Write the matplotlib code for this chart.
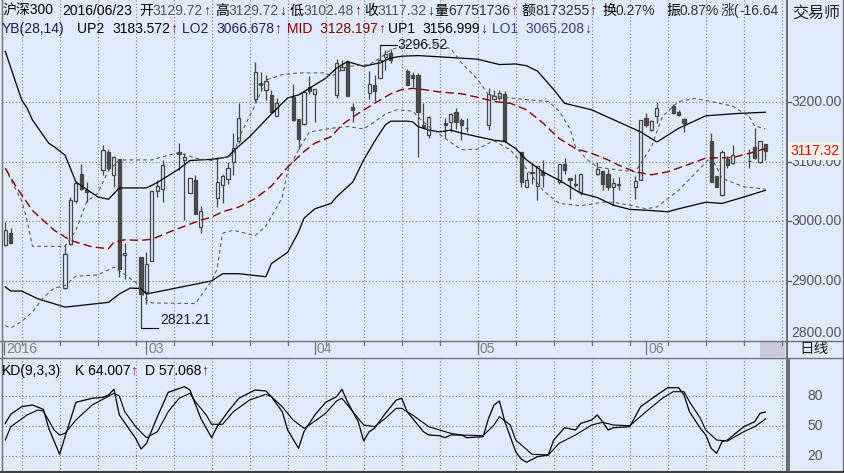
import numpy as np
import pandas as pd
import matplotlib
matplotlib.use("Agg")
from matplotlib import pyplot as plt
import matplotlib.dates as mdates
from matplotlib.patches import Rectangle
from matplotlib.lines import Line2D

plt.rcParams['font.family'] = ['Liberation Sans', 'Noto Sans CJK SC', 'DejaVu Sans']

# 沪深300 日K (读图估值)
trade_days = ['2016-02-04', '2016-02-05', '2016-02-15', '2016-02-16', '2016-02-17', '2016-02-18', '2016-02-19',
              '2016-02-22', '2016-02-23', '2016-02-24', '2016-02-25', '2016-02-26', '2016-02-29',
              '2016-03-01', '2016-03-02', '2016-03-03', '2016-03-04', '2016-03-07', '2016-03-08', '2016-03-09',
              '2016-03-10', '2016-03-11', '2016-03-14', '2016-03-15', '2016-03-16', '2016-03-17', '2016-03-18',
              '2016-03-21', '2016-03-22', '2016-03-23', '2016-03-24', '2016-03-25', '2016-03-28', '2016-03-29',
              '2016-03-30', '2016-03-31',
              '2016-04-01', '2016-04-05', '2016-04-06', '2016-04-07', '2016-04-08', '2016-04-11', '2016-04-12',
              '2016-04-13', '2016-04-14', '2016-04-15', '2016-04-18', '2016-04-19', '2016-04-20', '2016-04-21',
              '2016-04-22', '2016-04-25', '2016-04-26', '2016-04-27', '2016-04-28', '2016-04-29',
              '2016-05-03', '2016-05-04', '2016-05-05', '2016-05-06', '2016-05-09', '2016-05-10', '2016-05-11',
              '2016-05-12', '2016-05-13', '2016-05-16', '2016-05-17', '2016-05-18', '2016-05-19', '2016-05-20',
              '2016-05-23', '2016-05-24', '2016-05-25', '2016-05-26', '2016-05-27', '2016-05-30', '2016-05-31',
              '2016-06-01', '2016-06-02', '2016-06-03', '2016-06-06', '2016-06-07', '2016-06-08', '2016-06-13',
              '2016-06-14', '2016-06-15', '2016-06-16', '2016-06-17', '2016-06-20', '2016-06-21', '2016-06-22',
              '2016-06-23']
opens = [2961, 2981, 2888, 2962, 3034, 3079, 3053, 3086, 3117, 3078, 3104, 2943, 2940,
         2881, 2933, 3051, 3055, 3116, 3103, 3047, 3069, 2990, 3039, 3061, 3071, 3100, 3135, 3205, 3232, 3221,
         3212, 3177, 3208, 3172, 3163, 3225,
         3214, 3212, 3254, 3267, 3191, 3215, 3229, 3240, 3276, 3282, 3253, 3246, 3246, 3162, 3145, 3165, 3166,
         3184, 3170, 3157,
         3162, 3205, 3207, 3214, 3117, 3057, 3082, 3060, 3083, 3066, 3096, 3073, 3063, 3049, 3079, 3084, 3079,
         3058, 3061, 3057, 3070,
         3173, 3153, 3176, 3193, 3184, 3171, 3135, 3076, 3044, 3104, 3097, 3101, 3125, 3100, 3129.72]
highs = [2999, 2988, 2962, 3041, 3066, 3096, 3066, 3128, 3122, 3109, 3104, 2964, 2940,
         2948, 3051, 3069, 3103, 3131, 3114, 3072, 3078, 3026, 3108, 3080, 3100, 3148, 3198, 3268, 3251, 3245,
         3221, 3207, 3230, 3172, 3219, 3243,
         3222, 3273, 3271, 3271, 3198, 3252, 3246, 3296.52, 3288, 3289, 3255, 3251, 3249, 3198, 3177, 3173, 3181,
         3190, 3173, 3173,
         3223, 3221, 3220, 3218, 3117, 3083, 3097, 3092, 3103, 3096, 3106, 3073, 3079, 3079, 3100, 3084, 3087,
         3072, 3074, 3076, 3170,
         3181, 3170, 3201, 3196, 3187, 3173, 3148, 3076, 3119, 3110, 3128, 3122, 3156, 3134, 3129.72]
lows = [2959, 2963, 2886, 2960, 3030, 3052, 3033, 3077, 3086, 3058, 2906, 2903, 2821.21,
        2862, 2933, 3041, 3033, 3086, 3002, 3047, 3012, 2981, 3024, 3030, 3063, 3077, 3131, 3201, 3218, 3204,
        3181, 3176, 3169, 3122, 3162, 3213,
        3167, 3207, 3254, 3210, 3167, 3205, 3202, 3240, 3254, 3266, 3228, 3226, 3108, 3156, 3139, 3140, 3150,
        3155, 3136, 3150,
        3153, 3204, 3204, 3133, 3058, 3057, 3063, 3036, 3058, 3063, 3080, 3038, 3058, 3044, 3078, 3053, 3052,
        3027, 3053, 3038, 3070,
        3159, 3152, 3165, 3180, 3176, 3149, 3066, 3057, 3043, 3090, 3096, 3089, 3105, 3098, 3102.48]
closes = [2985, 2964, 2945, 3036, 3064, 3055, 3050, 3119, 3089, 3108, 2920, 2947, 2878,
          2929, 3051, 3059, 3094, 3113, 3108, 3072, 3013, 3018, 3066, 3076, 3090, 3123, 3173, 3250, 3228, 3236,
          3184, 3198, 3170, 3138, 3217, 3218,
          3222, 3265, 3259, 3211, 3187, 3230, 3219, 3270, 3281, 3271, 3229, 3240, 3183, 3158, 3175, 3162, 3180,
          3167, 3162, 3156,
          3214, 3210, 3216, 3134, 3066, 3069, 3081, 3092, 3078, 3096, 3086, 3069, 3061, 3079, 3088, 3063, 3058,
          3064, 3062, 3068, 3170,
          3162, 3169, 3190, 3181, 3179, 3165, 3066, 3058, 3117, 3094, 3111, 3102, 3106, 3134, 3117.32]

# YB(28,14) 通道线, 读图取点
up2_dates = ['2016-02-04', '2016-02-07', '2016-02-08', '2016-02-09', '2016-02-12', '2016-02-13', '2016-02-15',
             '2016-02-17', '2016-02-21', '2016-02-23', '2016-02-25', '2016-03-01', '2016-03-03', '2016-03-07',
             '2016-03-09', '2016-03-13', '2016-03-16', '2016-03-17', '2016-03-20', '2016-03-24', '2016-03-27',
             '2016-03-29', '2016-04-03', '2016-04-05', '2016-04-07', '2016-04-10', '2016-04-13', '2016-04-15',
             '2016-04-17', '2016-04-20', '2016-04-24', '2016-05-01', '2016-05-05', '2016-05-08', '2016-05-10',
             '2016-05-12', '2016-05-15', '2016-05-17', '2016-05-22', '2016-05-31', '2016-06-03', '2016-06-07',
             '2016-06-12', '2016-06-18', '2016-06-23']
up2_vals = [3285, 3204, 3190, 3170, 3131, 3125, 3111, 3066, 3041, 3037, 3056, 3056, 3065, 3088, 3102, 3104,
            3108, 3118, 3142, 3180, 3207, 3212, 3240, 3257, 3268, 3260, 3266, 3274, 3277, 3278, 3276, 3272,
            3263, 3264, 3261, 3252, 3221, 3198, 3187, 3150, 3133, 3156, 3177, 3181, 3183]

mid_dates = ['2016-02-04', '2016-02-06', '2016-02-09', '2016-02-13', '2016-02-16', '2016-02-20', '2016-02-23',
             '2016-02-24', '2016-02-26', '2016-02-29', '2016-03-02', '2016-03-06', '2016-03-11', '2016-03-13',
             '2016-03-15', '2016-03-18', '2016-03-21', '2016-03-24', '2016-03-27', '2016-03-30', '2016-04-01',
             '2016-04-04', '2016-04-06', '2016-04-09', '2016-04-12', '2016-04-15', '2016-04-17', '2016-04-19',
             '2016-04-21', '2016-04-24', '2016-04-28', '2016-05-01', '2016-05-04', '2016-05-07', '2016-05-10',
             '2016-05-13', '2016-05-16', '2016-05-19', '2016-05-22', '2016-05-25', '2016-05-27', '2016-05-30',
             '2016-06-02', '2016-06-05', '2016-06-09', '2016-06-12', '2016-06-17', '2016-06-20', '2016-06-23']
mid_vals = [3089, 3058, 3018, 2985, 2968, 2957, 2954, 2965, 2969, 2968, 2970, 2985, 3002, 3007, 3016, 3024,
            3038, 3059, 3091, 3117, 3131, 3142, 3162, 3181, 3198, 3214, 3221, 3223, 3221, 3217, 3214, 3208,
            3201, 3198, 3187, 3165, 3139, 3122, 3114, 3103, 3094, 3083, 3078, 3083, 3096, 3106, 3107, 3114, 3122]

up1_dates = ['2016-02-04', '2016-02-06', '2016-02-07', '2016-02-08', '2016-02-09', '2016-02-15', '2016-02-17',
             '2016-02-19', '2016-02-21', '2016-02-23', '2016-02-25', '2016-03-02', '2016-03-05', '2016-03-07',
             '2016-03-10', '2016-03-13', '2016-03-15', '2016-03-17', '2016-03-18', '2016-03-21', '2016-03-23',
             '2016-03-26', '2016-03-29', '2016-04-03', '2016-04-04', '2016-04-07', '2016-04-11', '2016-04-13',
             '2016-04-15', '2016-04-18', '2016-04-23', '2016-04-26', '2016-04-28', '2016-05-01', '2016-05-03',
             '2016-05-05', '2016-05-09', '2016-05-14', '2016-05-16', '2016-05-18', '2016-05-19', '2016-05-21',
             '2016-05-23', '2016-05-27', '2016-05-30', '2016-06-02', '2016-06-04', '2016-06-07', '2016-06-10',
             '2016-06-12', '2016-06-17', '2016-06-20', '2016-06-21', '2016-06-23']
up1_vals = [3089, 3052, 3035, 3002, 2958, 2958, 2985, 3033, 3047, 3085, 3103, 3103, 3111, 3115, 3106, 3102,
            3106, 3111, 3140, 3195, 3237, 3246, 3249, 3249, 3243, 3260, 3263, 3274, 3288, 3296, 3296, 3290,
            3266, 3238, 3212, 3209, 3205, 3201, 3185, 3155, 3125, 3105, 3091, 3086, 3083, 3125, 3176, 3201,
            3206, 3203, 3193, 3176, 3160, 3155]

lo1_dates = ['2016-02-04', '2016-02-05', '2016-02-07', '2016-02-09', '2016-02-11', '2016-02-13', '2016-02-15',
             '2016-02-17', '2016-02-21', '2016-02-24', '2016-02-28', '2016-03-01', '2016-03-02', '2016-03-10',
             '2016-03-13', '2016-03-14', '2016-03-15', '2016-03-17', '2016-03-21', '2016-03-23', '2016-03-26',
             '2016-03-27', '2016-03-29', '2016-03-31', '2016-04-04', '2016-04-07', '2016-04-10', '2016-04-12',
             '2016-04-14', '2016-04-16', '2016-04-19', '2016-04-20', '2016-04-22', '2016-04-25', '2016-04-28',
             '2016-05-01', '2016-05-03', '2016-05-04', '2016-05-07', '2016-05-10', '2016-05-13', '2016-05-16',
             '2016-05-20', '2016-05-24', '2016-05-26', '2016-05-29', '2016-06-01', '2016-06-03', '2016-06-07',
             '2016-06-10', '2016-06-13', '2016-06-15', '2016-06-19', '2016-06-23']
lo1_vals = [2825, 2821, 2832, 2848, 2872, 2888, 2892, 2908, 2910, 2923, 2898, 2868, 2863, 2862, 2900, 2920,
            2980, 2985, 2976, 2992, 3040, 3085, 3120, 3150, 3156, 3159, 3155, 3167, 3180, 3187, 3185, 3175,
            3159, 3139, 3120, 3121, 3131, 3135, 3120, 3088, 3052, 3030, 3026, 3032, 3032, 3027, 3021, 3024,
            3052, 3080, 3108, 3072, 3058, 3054]

lo2_dates = ['2016-02-04', '2016-02-05', '2016-02-07', '2016-02-10', '2016-02-15', '2016-02-23', '2016-02-25',
             '2016-02-27', '2016-02-29', '2016-03-01', '2016-03-07', '2016-03-13', '2016-03-15', '2016-03-18',
             '2016-03-23', '2016-03-24', '2016-03-27', '2016-03-29', '2016-03-30', '2016-04-01', '2016-04-04',
             '2016-04-05', '2016-04-08', '2016-04-10', '2016-04-12', '2016-04-14', '2016-04-15', '2016-04-18',
             '2016-04-19', '2016-04-20', '2016-04-22', '2016-04-24', '2016-04-26', '2016-04-28', '2016-05-01',
             '2016-05-04', '2016-05-06', '2016-05-08', '2016-05-10', '2016-05-13', '2016-05-16', '2016-05-18',
             '2016-05-20', '2016-05-23', '2016-05-26', '2016-05-29', '2016-06-02', '2016-06-05', '2016-06-07',
             '2016-06-12', '2016-06-15', '2016-06-18', '2016-06-23']
lo2_vals = [2890, 2883, 2883, 2870, 2856, 2864, 2878, 2888, 2887, 2878, 2889, 2900, 2912, 2912, 2907, 2929,
            2948, 2982, 3005, 3021, 3030, 3041, 3066, 3103, 3134, 3162, 3168, 3168, 3167, 3159, 3153, 3150,
            3153, 3148, 3142, 3136, 3134, 3122, 3103, 3083, 3069, 3058, 3047, 3040, 3027, 3020, 3018, 3016,
            3021, 3032, 3030, 3038, 3052]

# KD(9,3,3)
k_dates = ['2016-02-04', '2016-02-05', '2016-02-07', '2016-02-09', '2016-02-11', '2016-02-12', '2016-02-14',
           '2016-02-15', '2016-02-17', '2016-02-20', '2016-02-22', '2016-02-23', '2016-02-24', '2016-02-25',
           '2016-02-28', '2016-02-29', '2016-03-01', '2016-03-03', '2016-03-05', '2016-03-08', '2016-03-09',
           '2016-03-11', '2016-03-13', '2016-03-14', '2016-03-16', '2016-03-18', '2016-03-21', '2016-03-23',
           '2016-03-24', '2016-03-26', '2016-03-27', '2016-03-29', '2016-03-30', '2016-04-01', '2016-04-03',
           '2016-04-05', '2016-04-06', '2016-04-07', '2016-04-09', '2016-04-10', '2016-04-11', '2016-04-12',
           '2016-04-14', '2016-04-16', '2016-04-17', '2016-04-18', '2016-04-21', '2016-04-22', '2016-04-24',
           '2016-04-25', '2016-04-26', '2016-04-28', '2016-04-29', '2016-05-02', '2016-05-03', '2016-05-04',
           '2016-05-05', '2016-05-06', '2016-05-08', '2016-05-09', '2016-05-10', '2016-05-12', '2016-05-14',
           '2016-05-15', '2016-05-17', '2016-05-19', '2016-05-20', '2016-05-22', '2016-05-23', '2016-05-24',
           '2016-05-25', '2016-05-26', '2016-05-29', '2016-05-31', '2016-06-03', '2016-06-05', '2016-06-07',
           '2016-06-08', '2016-06-09', '2016-06-11', '2016-06-12', '2016-06-13', '2016-06-14', '2016-06-15',
           '2016-06-16', '2016-06-19', '2016-06-21', '2016-06-22', '2016-06-23']
k_vals = [52.7, 61.7, 69.3, 71, 66.7, 47.7, 21.7, 39.3, 73.7, 77.7, 78.7, 81, 86.7, 61, 37.7, 27, 32.7, 59.3,
          83.7, 89.3, 86, 57.7, 38.3, 49.3, 64.3, 77.7, 86, 85, 79.3, 64.3, 46, 27.7, 44.3, 61, 73.7, 79.3,
          86.7, 74.3, 54.3, 35, 44.3, 47.7, 62.7, 76, 77.7, 64.3, 44.3, 41, 40.3, 38.3, 41, 41, 38.3, 39.3,
          57.7, 71, 75, 54.3, 24.3, 17, 13.7, 19.3, 21, 36, 48.3, 46, 52.7, 56, 61, 54.3, 46, 48.3, 49.3, 69.3,
          81, 88.3, 88.3, 81, 64.3, 47.7, 41, 27.7, 22.7, 34.3, 36, 49.3, 54.3, 62.7, 64.007]

d_dates = ['2016-02-04', '2016-02-05', '2016-02-08', '2016-02-10', '2016-02-11', '2016-02-13', '2016-02-14',
           '2016-02-15', '2016-02-17', '2016-02-20', '2016-02-24', '2016-02-25', '2016-02-26', '2016-02-28',
           '2016-03-01', '2016-03-03', '2016-03-05', '2016-03-07', '2016-03-09', '2016-03-10', '2016-03-12',
           '2016-03-13', '2016-03-15', '2016-03-17', '2016-03-20', '2016-03-23', '2016-03-24', '2016-03-26',
           '2016-03-28', '2016-03-30', '2016-03-31', '2016-04-03', '2016-04-05', '2016-04-06', '2016-04-08',
           '2016-04-10', '2016-04-12', '2016-04-14', '2016-04-16', '2016-04-17', '2016-04-19', '2016-04-22',
           '2016-04-26', '2016-04-28', '2016-05-02', '2016-05-04', '2016-05-05', '2016-05-07', '2016-05-08',
           '2016-05-11', '2016-05-14', '2016-05-16', '2016-05-19', '2016-05-22', '2016-05-24', '2016-05-26',
           '2016-05-29', '2016-06-01', '2016-06-04', '2016-06-06', '2016-06-08', '2016-06-09', '2016-06-11',
           '2016-06-12', '2016-06-14', '2016-06-16', '2016-06-19', '2016-06-21', '2016-06-23']
d_vals = [36, 49.3, 61, 66, 65, 46, 41, 42.7, 56, 71, 82.7, 80, 64.3, 49.3, 38.3, 44.3, 64.3, 77.7, 82.7,
          74.3, 61, 51.7, 51.7, 64.3, 76, 81.7, 79.3, 69.3, 56, 47.7, 51, 62.7, 75, 77.7, 64.3, 51, 49.3,
          57.7, 67.7, 67.7, 61, 49.3, 42.7, 41, 40.3, 51, 59.3, 51, 36, 21.7, 21, 32.7, 41, 51, 53.7, 51,
          50.3, 64.3, 77.7, 84.3, 84.3, 74.3, 57.7, 46, 36, 35, 44.3, 49.3, 57.068]

price_ticks = [3200, 3100, 3000, 2900]
kd_ticks = [80, 50, 20]
month_marks = ['2016-02-04', '2016-03-01', '2016-04-01', '2016-05-01', '2016-06-01']
month_labels = ['2016', '03', '04', '05', '06']

W, H = 844, 473
BG = '#DFEBFA'
DARK = '#454545'
GRID = '#7c7c7c'
PX_DAY = 5.43  # 每个日历日约 5.43 像素

fig = plt.figure(figsize=(W / 100, H / 100), dpi=100, facecolor=BG)


def fx(x):
    return x / W


def fy(y):
    return 1 - y / H


def d2n(lst):
    return mdates.date2num(pd.to_datetime(lst))


t0 = d2n(['2016-02-04'])[0]
xlim = (t0 - 0.61, t0 + 143.96)

ax = fig.add_axes([fx(2), fy(340.5), (787 - 2) / W, 340.5 / H])
ax.set_xlim(*xlim)
ax.set_ylim(2800, 2800 + 340.5 / 0.596)
ax.set_axis_off()

kd = fig.add_axes([fx(2), fy(472), (787 - 2) / W, 114 / H])
kd.set_xlim(*xlim)
kd.set_ylim(4, 118)
kd.set_axis_off()

# 网格
sundays = d2n(pd.date_range('2016-02-07', '2016-06-26', freq='7D'))
for a in (ax, kd):
    for s in sundays:
        a.axvline(s, color=GRID, lw=0.8, ls=(0, (1, 2)), zorder=1)
for v in price_ticks:
    ax.axhline(v, color=GRID, lw=0.8, ls=(0, (1, 2)), zorder=1)
for v in kd_ticks:
    kd.axhline(v, color=GRID, lw=0.8, ls=(0, (1, 2)), zorder=1)

# K线
xs = d2n(trade_days)
bw = 0.58
ax.vlines(xs, lows, highs, color=DARK, lw=0.9, zorder=3)
for x, o, c in zip(xs, opens, closes):
    lo, hi = min(o, c), max(o, c)
    up = c >= o
    ax.add_patch(Rectangle((x - bw / 2, lo), bw, max(hi - lo, 0.6),
                           facecolor=BG if up else '#4d4d4d', edgecolor=DARK, lw=0.9, zorder=4))

# 通道线
ax.plot(d2n(up2_dates), up2_vals, color='black', lw=0.9, zorder=5)
ax.plot(d2n(lo2_dates), lo2_vals, color='black', lw=0.9, zorder=5)
ax.plot(d2n(up1_dates), up1_vals, color='#555555', lw=0.75, dashes=(3.5, 3), zorder=5)
ax.plot(d2n(lo1_dates), lo1_vals, color='#555555', lw=0.75, dashes=(3.5, 3), zorder=5)
ax.plot(d2n(mid_dates), mid_vals, color='#8B0000', lw=1.0, dashes=(6, 3), zorder=5)

# 最高/最低标注
i_hi = int(np.argmax(highs))
i_lo = int(np.argmin(lows))
xh, xl = xs[i_hi], xs[i_lo]
ax.plot([xh, xh + 17 / PX_DAY], [highs[i_hi]] * 2, color='black', lw=0.8, zorder=6)
ax.text(xh + 17.5 / PX_DAY, highs[i_hi], f'{highs[i_hi]:.2f}', fontsize=10, color='#151535',
        va='center', ha='left', zorder=7)
ax.plot([xl, xl + 17 / PX_DAY], [lows[i_lo]] * 2, color='black', lw=0.8, zorder=6)
ax.text(xl + 19 / PX_DAY, lows[i_lo] + 13, f'{lows[i_lo]:.2f}', fontsize=10, color='#151535',
        va='center', ha='left', zorder=7)

# KD
kd.plot(d2n(k_dates), k_vals, color='black', lw=0.9, zorder=5)
kd.plot(d2n(d_dates), d_vals, color='black', lw=0.8, zorder=5)

# 右侧刻度
ytr = ax.get_yaxis_transform()
for v in price_ticks:
    ax.text(1 + 4 / 785, v, f'{v:.2f}', transform=ytr, fontsize=10, color='#555555',
            va='center', ha='left', clip_on=False)
    ax.plot([1, 1 + 4 / 785], [v, v], transform=ytr, color='#555555', lw=0.9, clip_on=False)
ax.text(1 + 4 / 785, 2812, '2800.00', transform=ytr, fontsize=10, color='#555555',
        va='center', ha='left', clip_on=False)
ax.text(1 + 3 / 785, closes[-1], f'{closes[-1]:.2f}', transform=ytr, fontsize=10, color='#ff0000',
        va='center', ha='left', clip_on=False, zorder=8,
        bbox=dict(facecolor='#F1F5EC', edgecolor='none', pad=1.5))
ktr = kd.get_yaxis_transform()
for v in kd_ticks:
    kd.text(1 + 28 / 785, v, str(v), transform=ktr, fontsize=10, color='#555555',
            va='center', ha='center', clip_on=False)

# 边框
def fline(x0, y0, x1, y1, c='#707070', lw=1.0):
    fig.add_artist(Line2D([fx(x0), fx(x1)], [fy(y0), fy(y1)], color=c, lw=lw))


fline(1.5, 0, 1.5, 473)
fline(787, 0, 787, 473, '#606060', 1.3)
fline(842.5, 0, 842.5, 473, '#707070', 1.0)
fline(0, 340.5, 844, 340.5)
fline(0, 358, 844, 358)
fline(0, 471.5, 844, 471.5, '#404040', 1.5)
fline(789, 360, 789, 471, '#555555', 1.2)

# 日期条
for s in sundays:
    sx = 2 + (s - xlim[0]) * PX_DAY
    fline(sx, 340.5, sx, 345, '#707070', 0.9)
for m, lab in zip(d2n(month_marks), month_labels):
    mx = 2 + (m - xlim[0]) * PX_DAY - (1.3 if lab == '2016' else 0)
    fline(mx, 341, mx, 354, '#707070', 0.9)
    fig.text(fx(mx + 2), fy(349), lab, fontsize=10, color='#808080', ha='left', va='center')
fig.add_artist(Rectangle((fx(760), fy(357)), 25 / W, 15 / H, facecolor='#C9CAD9', edgecolor='none'))
fig.text(fx(814), fy(349), '日线', fontsize=10.5, color='#202020', ha='center', va='center')
fig.text(fx(792), fy(13), '交易师', fontsize=11.5, color='#202020', ha='left', va='center')

# 顶部信息
renderer = fig.canvas.get_renderer()


def text_run(x, y, parts, size=10):
    for s, c in parts:
        t = fig.text(fx(x), fy(y), s, color=c, fontsize=size, ha='left', va='center', zorder=9)
        x += t.get_window_extent(renderer).width


UPC, DNC, VAL = '#7a1f4a', '#202020', '#555555'
text_run(2, 11, [('沪深300', 'black')])
text_run(62, 11, [('2016/06/23', 'black')])
text_run(139, 11, [('开', 'black'), ('3129.72', VAL), ('↑', UPC)])
text_run(215, 11, [('高', 'black'), ('3129.72', VAL), ('↓', DNC)])
text_run(290, 11, [('低', 'black'), ('3102.48', VAL), ('↑', UPC)])
text_run(364, 11, [('收', 'black'), ('3117.32', VAL), ('↓', DNC)])
text_run(434, 11, [('量', 'black'), ('67751736', '#333333'), ('↑', UPC)])
text_run(521, 11, [('额', 'black'), ('8173255', '#333333'), ('↑', UPC)])
text_run(602, 11, [('换', 'black'), ('0.27%', '#333333')])
text_run(666, 11, [('振', 'black'), ('0.87%', '#333333')])
text_run(721, 11, [('涨(', '#333333'), ('-16.64', '#333333')])

text_run(2, 29, [('YB(28,14)', '#1a1a50')])
text_run(77, 29, [('UP2  ', 'black'), ('3183.572', 'black'), ('↑', UPC)])
text_run(182, 29, [('LO2  ', '#20205a'), ('3066.678', '#20205a'), ('↑', UPC)])
text_run(287, 29, [('MID  3128.197', '#8B0000'), ('↑', UPC)])
text_run(388, 29, [('UP1  ', 'black'), ('3156.999', 'black'), ('↓', DNC)])
text_run(492, 29, [('LO1  3065.208', '#40407a'), ('↓', '#40407a')])

text_run(2, 371, [('KD(9,3,3)', 'black')])
text_run(75, 371, [('K 64.007', 'black'), ('↑', UPC)])
text_run(145, 371, [('D 57.068', 'black'), ('↑', UPC)])

fig.savefig('out.png', dpi=100, facecolor=BG)
